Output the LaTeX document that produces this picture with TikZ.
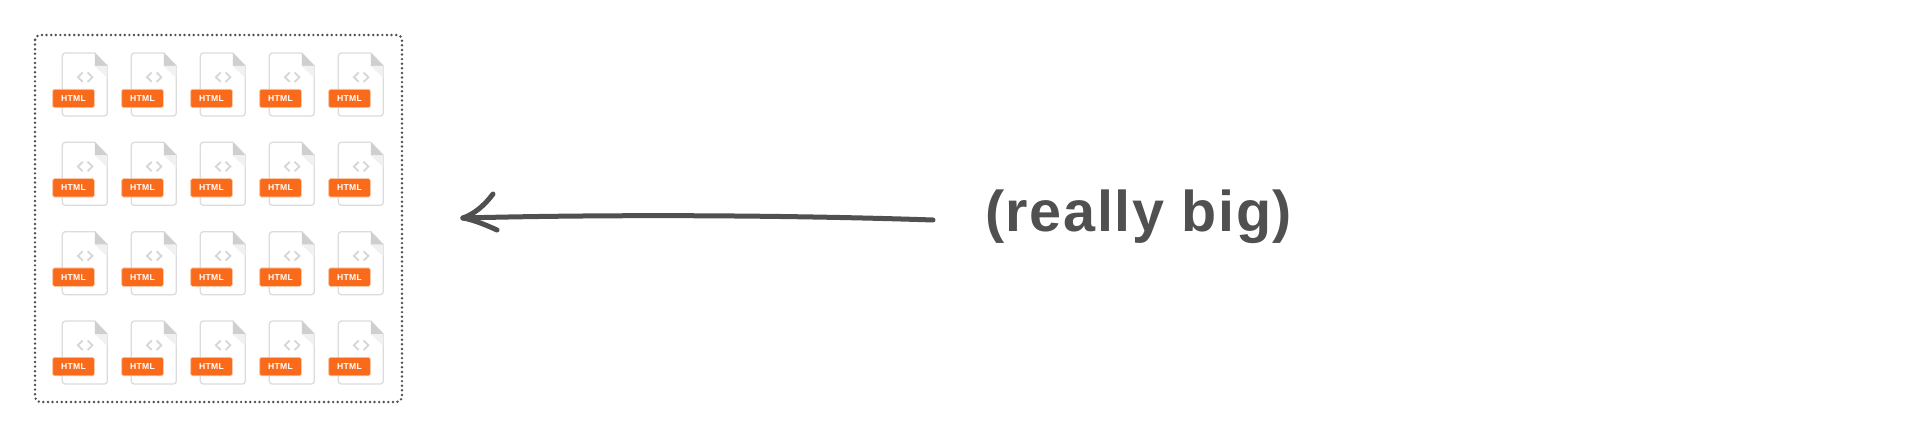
\documentclass[tikz,border=0pt]{standalone}
\usepackage{fontspec}
\setmainfont{Liberation Sans}
\newfontfamily\labelfont[LetterSpace=2.8]{Liberation Sans}
\newfontfamily\badgefont[LetterSpace=3]{Liberation Sans}
\definecolor{ink}{HTML}{505050}
\definecolor{pagecol}{HTML}{DCDCDC}
\definecolor{foldcol}{HTML}{CFCFCF}
\definecolor{foldshade}{HTML}{F1F1F1}
\definecolor{codecol}{HTML}{D6D6D6}
\definecolor{badge}{HTML}{F96B1B}
\definecolor{badgeedge}{HTML}{FBC7A6}
\tikzset{
  px/.style={x=1pt,y=-1pt},
  framebox/.style={draw=ink,line width=2.7pt,line cap=round,dash pattern=on 0pt off 4.6pt,rounded corners=5pt},
  sheet/.style={draw=pagecol,line width=1.3pt,fill=white,line join=round},
  codemark/.style={draw=codecol,line width=1.8pt,line join=miter},
  badgebox/.style={fill=badge,draw=badgeedge,line width=.6pt,rounded corners=1.5pt},
  badgetext/.style={text=white,font=\badgefont\bfseries\fontsize{8.6}{8.6}\selectfont,inner sep=0pt},
  sketch/.style={draw=ink,line width=5pt,line cap=round,line join=round},
  label/.style={text=ink,font=\labelfont\bfseries\fontsize{57.5}{57.5}\selectfont,inner sep=0pt},
  pics/htmlfile/.style={code={
    \draw[sheet] (3,0) -- (32.5,0) -- (45,13) -- (45,60) arc[start angle=0,end angle=90,radius=3] -- (3,63) arc[start angle=90,end angle=180,radius=3] -- (0,3) arc[start angle=180,end angle=270,radius=3] -- cycle;
    \fill[foldcol] (32.5,0) -- (45,13) -- (32.5,13) -- cycle;
    \fill[foldshade] (32.5,13) -- (45,13) -- (45,25) -- cycle;
    \draw[codemark] (20.4,19.5) -- (15.6,24.2) -- (20.4,28.9);
    \draw[codemark] (25.3,19.5) -- (30.1,24.2) -- (25.3,28.9);
    \path[badgebox] (-9.6,36.3) rectangle (32,54.7);
    \node[badgetext] at (11.2,45.6) {HTML};
  }}
}
\begin{document}
\begin{tikzpicture}[px]
\useasboundingbox (0,0) rectangle (1920,438);
\fill[white] (0,0) rectangle (1920,438);
\draw[framebox] (35,35) rectangle (402,402);
\foreach \r in {0,1,2,3}{
  \foreach \c in {0,1,2,3,4}{
    \pic at ({62.3+69*\c},{53+89.35*\r}) {htmlfile};
  }
}
\coordinate (tail) at (933,220);
\coordinate (tip) at (463,218);
\coordinate (barbup) at (493,194);
\coordinate (barbdown) at (497,230);
\draw[sketch] (tail) .. controls (800,215.5) and (620,214) .. (tip);
\draw[sketch] (barbup) .. controls (484,206) and (474,214) .. (tip);
\draw[sketch] (tip) .. controls (474,220) and (486,225) .. (barbdown);
\node[label,anchor=base west] (lbl) at (985,232) {(really big)};
\end{tikzpicture}
\end{document}
